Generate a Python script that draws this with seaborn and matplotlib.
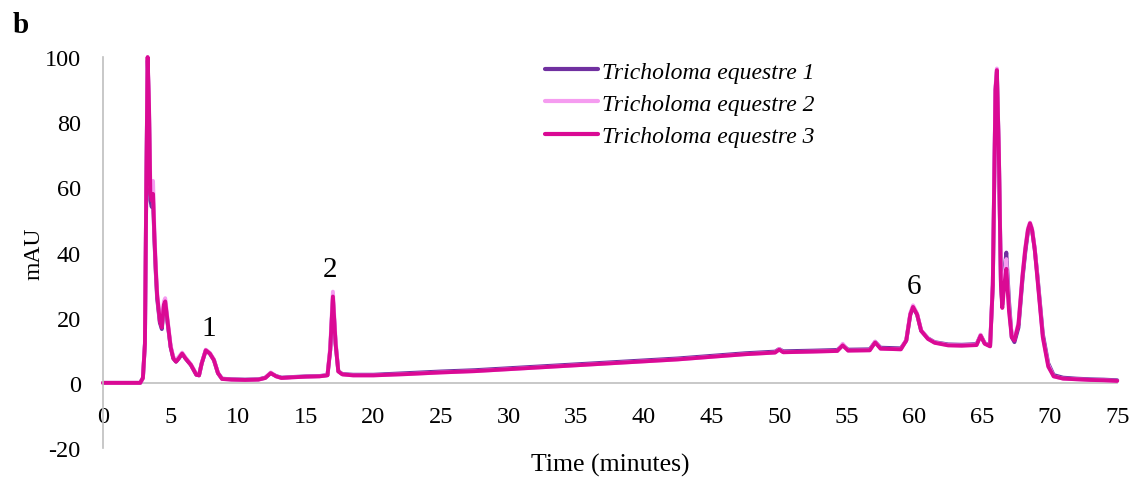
import numpy as np
import pandas as pd
import seaborn as sns
import matplotlib.pyplot as plt

# retention time (minutes) and absorbance (mAU)
time = [0.0, 1.0, 2.0, 2.75, 2.95, 3.1, 3.2, 3.3, 3.4, 3.5, 3.6, 3.7, 3.8, 3.9, 4.0, 4.2, 4.35,
        4.5, 4.6, 4.8, 5.0, 5.2, 5.4, 5.6, 5.85, 6.1, 6.5, 6.9, 7.1, 7.3, 7.6, 7.9, 8.2, 8.5,
        8.8, 9.5, 10.5, 11.5, 12.0, 12.4, 12.8, 13.2, 14.0, 15.0, 16.0, 16.6, 16.8, 17.0, 17.2,
        17.4, 17.7, 18.5, 20.0, 22.5, 25.0, 27.5, 30.0, 32.5, 35.0, 37.5, 40.0, 42.5, 45.0,
        47.5, 49.7, 50.0, 50.3, 52.5, 54.3, 54.7, 55.1, 56.7, 57.1, 57.5, 59.0, 59.4, 59.7,
        59.9, 60.2, 60.5, 61.0, 61.5, 62.5, 63.5, 64.6, 64.9, 65.2, 65.6, 65.8, 66.0, 66.1,
        66.25, 66.4, 66.5, 66.65, 66.8, 67.0, 67.2, 67.4, 67.7, 68.0, 68.2, 68.4, 68.55, 68.7,
        68.9, 69.1, 69.5, 69.9, 70.3, 71.0, 72.0, 73.0, 74.0, 75.0]

te1 = [0.0, 0.0, 0.0, 0.0, 1.5, 12, 60, 99, 84, 56, 54, 56, 44, 34, 26, 18.5, 16.5,
       23.5, 24.5, 17.5, 11, 7.5, 6.5, 7.5, 9.0, 7.5, 5.5, 2.5, 2.3, 6, 10, 9, 7, 3,
       1.3, 1.1, 1.0, 1.1, 1.6, 3.0, 2.1, 1.6, 1.8, 2.0, 2.1, 2.4, 10, 26, 12,
       3.6, 2.7, 2.5, 2.5, 3.0, 3.5, 3.9, 4.5, 5.1, 5.7, 6.3, 6.9, 7.5, 8.3,
       9.1, 9.6, 10.4, 9.7, 9.9, 10.1, 11.6, 10.2, 10.3, 12.6, 10.8, 10.6, 13, 21,
       23.2, 21, 16, 13.7, 12.5, 11.8, 11.7, 11.9, 14.6, 12.2, 11.4, 30, 90, 95.5,
       70, 31, 24, 34, 40, 25, 14, 12.5, 17, 32, 40, 46.5, 48.5, 47, 41,
       33, 15, 6, 2.4, 1.6, 1.3, 1.1, 1.0, 0.8]

te2 = [0.0, 0.0, 0.0, 0.0, 1.5, 12, 61, 100, 86, 60, 61, 62, 47, 36, 28, 19.5, 17.5,
       25, 26, 18.5, 11.5, 8, 7, 8, 9.3, 7.8, 5.7, 2.7, 2.4, 6.2, 10.2, 9.2, 7.2, 3.1,
       1.2, 1.0, 0.9, 1.0, 1.5, 3.2, 2.0, 1.5, 1.7, 1.9, 2.0, 2.4, 11, 28, 13,
       3.6, 2.6, 2.3, 2.3, 2.7, 3.2, 3.6, 4.2, 4.8, 5.4, 6.0, 6.6, 7.2, 8.0,
       8.8, 9.3, 10.4, 9.4, 9.6, 9.8, 12, 9.9, 10.0, 12.7, 10.5, 10.3, 13.2, 21.5,
       23.8, 21.3, 16.2, 13.6, 12.4, 11.6, 11.5, 11.7, 14.8, 12.1, 11.3, 31, 91, 96.5,
       71, 31, 24, 33, 38, 23, 14.5, 13.5, 18.5, 33.5, 41.5, 47.5, 49.2, 47.5, 41.5,
       32.5, 14, 5.5, 2.0, 1.3, 1.1, 0.9, 0.8, 0.6]

te3 = [0.0, 0.0, 0.0, 0.0, 1.5, 12, 60, 100, 85, 58, 56, 58, 45, 35, 27, 19, 17,
       24, 25, 18, 11, 7.5, 6.5, 7.5, 9.0, 7.5, 5.5, 2.5, 2.3, 6, 10, 9, 7, 3,
       1.2, 1.0, 0.9, 1.0, 1.5, 3.0, 2.0, 1.5, 1.7, 1.9, 2.0, 2.3, 10, 26.5, 12,
       3.5, 2.6, 2.3, 2.3, 2.7, 3.2, 3.6, 4.2, 4.8, 5.4, 6.0, 6.6, 7.2, 8.0,
       8.8, 9.3, 10.2, 9.4, 9.6, 9.8, 11.5, 9.9, 10.0, 12.4, 10.5, 10.3, 13, 21,
       23.3, 21, 16, 13.5, 12.3, 11.5, 11.4, 11.6, 14.5, 12, 11.2, 30, 90, 96,
       70, 30, 23, 30, 35, 22, 14, 13, 18, 33, 41, 47, 49, 47, 41,
       32, 14, 5, 2, 1.3, 1.1, 0.9, 0.8, 0.6]

names = ["Tricholoma equestre 1", "Tricholoma equestre 2", "Tricholoma equestre 3"]
colors = ["#7030A0", "#F59CF0", "#DA0A94"]

df = pd.DataFrame({"time": time * 3,
                   "mAU": te1 + te2 + te3,
                   "sample": [names[0]] * len(time) + [names[1]] * len(time) + [names[2]] * len(time)})

sns.set_style("white")
plt.rcParams['font.family'] = ['Liberation Serif', 'DejaVu Serif']
plt.rcParams['axes.unicode_minus'] = False
plt.rcParams['text.color'] = 'black'
plt.rcParams['axes.labelcolor'] = 'black'
plt.rcParams['xtick.color'] = 'black'
plt.rcParams['ytick.color'] = 'black'

fig = plt.figure(figsize=(11.37, 4.85), dpi=100)
ax = fig.add_axes([0.0906, 0.0742, 0.892, 0.806])

sns.lineplot(data=df, x="time", y="mAU", hue="sample", palette=colors,
             linewidth=2.8, sort=False, ax=ax)

ax.set_xlim(0, 75)
ax.set_ylim(-20, 100)
ax.set_xticks(range(0, 76, 5))
ax.set_yticks(range(-20, 101, 20))
ax.tick_params(labelsize=17.5, length=0)
ax.tick_params(axis='y', pad=16)
ax.tick_params(axis='x', pad=17)

for s in ['top', 'right']:
    ax.spines[s].set_visible(False)
ax.spines['bottom'].set_position(('data', 0))
ax.spines['bottom'].set_color('#BFBFBF')
ax.spines['left'].set_color('#BFBFBF')
ax.spines['bottom'].set_linewidth(1.2)
ax.spines['left'].set_linewidth(1.2)
ax.spines['bottom'].set_zorder(0)
for line in ax.get_lines():
    line.set_clip_on(False)

ax.set_xlabel("Time (minutes)", fontsize=18.5)
ax.xaxis.set_label_coords(0.5, -0.012)
ax.set_ylabel("mAU", fontsize=17)
ax.yaxis.set_label_coords(-0.058, 0.5)

ax.text(7.85, 12.9, "1", fontsize=21, ha='center', va='bottom')
ax.text(16.8, 31, "2", fontsize=21, ha='center', va='bottom')
ax.text(60.0, 25.8, "6", fontsize=21, ha='center', va='bottom')

fig.text(0.011, 0.932, "b", fontsize=21, fontweight='bold')

leg = ax.legend(loc='upper left', bbox_to_anchor=(0.479, 0.872),
                bbox_transform=fig.transFigure, frameon=False,
                prop={'style': 'italic', 'size': 17}, handlelength=2.25,
                handletextpad=0.2, labelspacing=0.45, borderpad=0, borderaxespad=0)
for h in leg.get_lines():
    h.set_linewidth(3)

fig.savefig("out.png", dpi=100)
